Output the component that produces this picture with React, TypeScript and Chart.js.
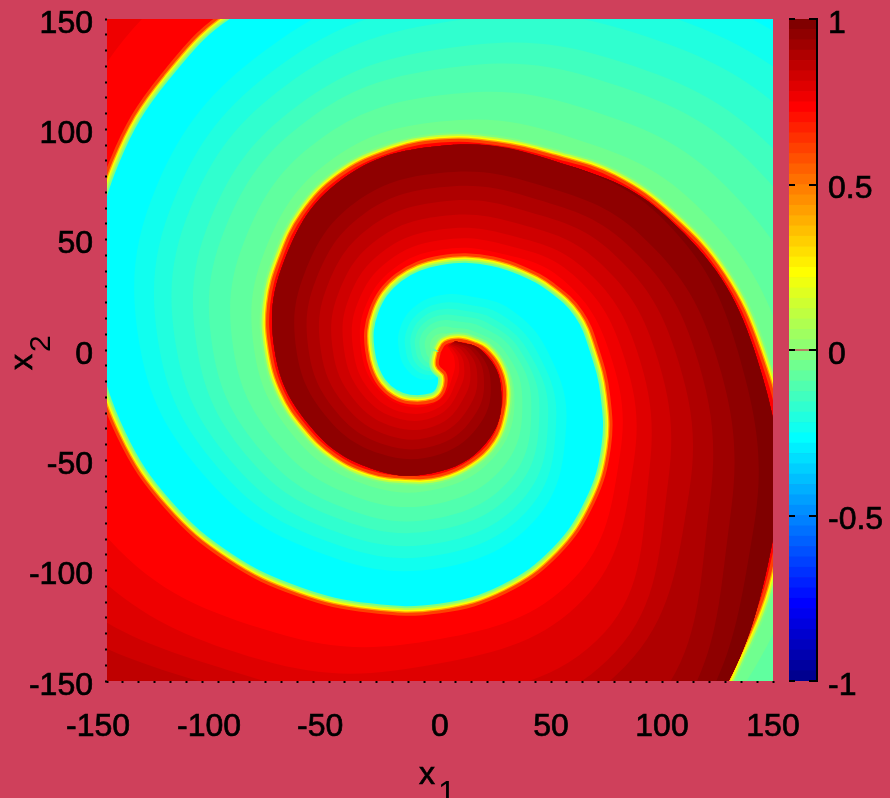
import React, { useEffect, useRef } from "react";
import { Chart, registerables } from "chart.js";

Chart.register(...registerables);

const PAGE = "#cf405b";
const FONT = "'Liberation Sans', Arial, sans-serif";

// jet colour map, bottom to top of the colour bar
const colormap = [
  "#00008f","#00009f","#0000af","#0000bf","#0000cf","#0000df","#0000ef","#0000ff",
  "#0010ff","#0020ff","#0030ff","#0040ff","#0050ff","#0060ff","#0070ff","#0080ff",
  "#008fff","#009fff","#00afff","#00bfff","#00cfff","#00dfff","#00efff","#00ffff",
  "#10ffef","#20ffdf","#30ffcf","#40ffbf","#50ffaf","#60ff9f","#70ff8f","#80ff80",
  "#8fff70","#9fff60","#afff50","#bfff40","#cfff30","#dfff20","#efff10","#ffff00",
  "#ffef00","#ffdf00","#ffcf00","#ffbf00","#ffaf00","#ff9f00","#ff8f00","#ff8000",
  "#ff7000","#ff6000","#ff5000","#ff4000","#ff3000","#ff2000","#ff1000","#ff0000",
  "#ef0000","#df0000","#cf0000","#bf0000","#af0000","#9f0000","#8f0000","#800000",
];
const barTicks = [-1, -0.5, 0, 0.5, 1];

// Edges of the red arm: a few points at the tip, radii per clockwise angle, far points off the plot
const frontTip: [number, number][] = [[-0.8,-1.9],[3,4],[10.5,4.8],[17,2.6]];
const frontAngles = [0,15,30,45,60,75,90,105,120,135,150,165,180,195,210,225,240,255,270,285,300,315,330,345,360,375,390,405,420];
const frontEdgeR = [21.5,28,34.5,41,48.3,53.5,57.8,60.8,64.8,68.2,71,74.5,77.5,81,84,88.5,92,93.8,95.8,98,102.5,112,121.5,133,144.7,160,176,193,213];
const frontFar: [number, number][] = [[0,-255],[-137.5,-238],[-251,-145],[-305,0],[-279,161],[-170,294],[0,365],[195,338]];

const backTip: [number, number][] = [[-0.9,-5.9],[2.3,-10.4],[1.5,-17.7],[-3,-22]];
const backAngles = [120,135,150,165,180,195,210,225,240,255,270,285,300,315,330,345,360,375,390,405,420,435,450,465,480,495,510,525,540,555,570,585,600,630,660];
const backEdgeR = [26.5,29,30.5,31.2,32,33.5,35,36.8,38.2,39.5,41,43.6,47,51.7,58,65,70,77.5,87,96.5,105.5,112.5,117.5,121.5,127,134,141.5,149,156,163,170,175.5,180,195,225];

// Contours of the field as radii, at clockwise angles from the x1 axis.
const cyanAngles = [-300,-270,-240,-210,-180,-150,-120,-90,-60,-30,0,30,60,90,120,150,180,210,240,270,300,330,360,390,420];
const frontRadius = [2,2,2,2,2,3,4,5,5.5,10,21.5,34.5,48.5,58,65,71,77.5,84,92,95.5,102.5,122,144.5,176,215];
const level0 = [5.9,11.6,15.5,17.4,18.5,20.6,22.7,24.8,28,36.8,48.2,65.7,87.6,98.8,106.5,119.6,134.9,147.6,157,169,193,220,245,283,321];
const level1 = [5.2,9.9,13,14.6,15.5,17.4,19.3,21.2,24,32,43.3,60.5,81.9,92.8,100.4,112.5,126.3,138,147.4,158,179.7,205.8,230,267,304.5];
const level2 = [4.6,8.5,11,12.4,13,14.8,16.6,18.3,20.7,28,39.4,56.3,76.7,87.4,94.9,106,118.6,129.6,138.6,148.2,167.4,192.5,216.3,252,289.5];
const level3 = [4.1,7.3,9.4,10.4,11,12.6,14.2,15.8,17.8,24.6,36,51.7,71,81.4,88.8,99,109.3,119.3,128,136.3,152.7,176.5,200,235,271.5];
const level4 = [3.6,6,7.6,8.4,8.9,10.4,11.8,13.3,15,21.2,32.7,47.5,65.8,76,83.3,92.5,102.3,111.5,120,127.3,141.7,164.6,188,222,258];
const level5 = [3,4.6,5.7,6.2,6.5,7.8,9.1,10.4,11.7,17.3,28.8,42.8,59.4,69.4,76.6,84.6,93,101.2,109.6,115.4,127,148.6,171.6,205,240];
const level6 = [2.5,3.3,3.7,4,4.1,5.2,6.4,7.5,8.4,13.4,24.9,38.7,53,62.8,69.9,76.7,83.7,90.9,99,103.5,112.3,132.6,155.3,187.5,222];
const cyanLevels = [level0, level1, level2, level3, level4, level5, level6];
const cyanColors = ["#10ffef","#20ffdf","#30ffcf","#40ffbf","#50ffaf","#60ff9f","#70ff8f"];

const redAngles = [-30,0,30,60,90,120,150,180,210,240,270,300,330,360,390,420,450,480,510,540,570,600,630,660];
const darkEdge = [8,18.5,31.5,45.5,55,62,68,74.5,81,89,92.5,99.5,119,141.5,173,212,252,272,287,302,319,337,362,387];
const red0 = [3.6,4.5,7.4,12.2,22.6,29.6,33.3,35.5,38.9,42.3,45.4,51,63.8,76,93.7,120,131,148,172,190,195,205,222,250];
const red1 = [4.1,6,9.7,15.3,25.7,32.7,36.6,39.1,42.8,46.6,49.7,55.5,68.8,81.9,100.8,130,142,162,188,215,225,235,245,270];
const red2 = [4.8,7.6,12.4,18.9,29.1,36.1,40.3,43.2,47.3,51.5,54.6,60.5,74.5,88.6,108.9,148,158,171,205,240,245,250,260,285];
const red3 = [5.5,9.7,15.6,23.2,33.4,40.4,44.8,48.3,52.6,57.4,60.6,66.7,81.5,96.8,118.7,158,170,180,218,255,262,270,280,300];
const red4 = [6.4,11.9,19.2,28,38,45,49.7,53.7,58.5,63.9,67.2,73.4,89.1,105.8,129.5,166,180,194,232,270,275,285,295,315];
const red5 = [7.2,14.1,22.7,32.7,42.6,49.6,54.6,59.2,64.4,70.4,73.7,80.1,96.7,114.7,140.2,188,198,215,245,285,290,300,310,330];
const red6 = [8,16.3,26.2,37.4,47.2,54.2,59.5,64.7,70.3,76.9,80.2,86.8,104.3,123.6,151,200,215,235,265,300,305,315,325,345];
const red7 = [8,18.5,31.5,45.5,55,62,68,74.5,81,89,92.5,99.5,117,134,163,208,232,252,285,315,320,330,340,365];
const redLevels = [red0, red1, red2, red3, red4, red5, red6, red7];
const redColors = ["#ef0000","#df0000","#cf0000","#bf0000","#af0000","#9f0000","#8f0000","#800000"];

const plotBox: [number, number][] = [[-150,-150],[150,-150],[150,150],[-150,150]];

type P = { x: number; y: number };
const toPoints = (list: [number, number][]): P[] => list.map(([x, y]) => ({ x, y }));
const fromPolar = (angles: number[], radii: number[]): P[] =>
  radii.map((r, i) => {
    const a = (-angles[i] * Math.PI) / 180;
    return { x: r * Math.cos(a), y: r * Math.sin(a) };
  });
// the ramp around the arm's edge is centred on the read line, so the solid arm sits just inside it
const moveRadially = (pts: P[], dr: number): P[] =>
  pts.map((p) => {
    const r = Math.hypot(p.x, p.y);
    return { x: (p.x * (r + dr)) / r, y: (p.y * (r + dr)) / r };
  });

function buildDatasets() {
  const front = [...toPoints(frontTip), ...fromPolar(frontAngles, frontEdgeR), ...toPoints(frontFar)];
  const back = [...toPoints(backTip), ...fromPolar(backAngles, backEdgeR)];
  const armEdge = [...moveRadially(front, -1.1), ...moveRadially(back, 1.1).reverse()];
  const closed = [...armEdge, armEdge[0]];
  const base = { pointRadius: 0, borderWidth: 0, tension: 0.4, showLine: true };
  const list: any[] = [];
  list.push({ ...base, tension: 0, data: toPoints(plotBox), fill: "shape", backgroundColor: "#00ffff" });
  cyanLevels.forEach((row, i) => {
    list.push({
      ...base,
      data: [...fromPolar(cyanAngles, frontRadius), ...fromPolar(cyanAngles, row).reverse()],
      fill: "shape",
      backgroundColor: cyanColors[i],
    });
  });
  [["#80ff80", 16], ["#bfff40", 12], ["#ffff00", 8.5], ["#ffa000", 5.5]].forEach(([c, w]) => {
    list.push({ ...base, data: closed, fill: false, borderColor: c, borderWidth: w });
  });
  list.push({ ...base, data: closed, fill: "shape", backgroundColor: "#ff0000", borderColor: "#ff4000", borderWidth: 3 });
  redLevels.forEach((row, i) => {
    list.push({
      ...base,
      data: [...fromPolar(redAngles, darkEdge), ...fromPolar(redAngles, row).reverse()],
      fill: "shape",
      backgroundColor: redColors[i],
    });
  });
  list.forEach((d, i) => (d.order = list.length - i));
  return list;
}

const axisLabels = {
  id: "axisLabels",
  afterDraw(chart: any) {
    const ctx = chart.ctx;
    ctx.save();
    ctx.fillStyle = "#000";
    ctx.strokeStyle = "#000";
    ctx.lineWidth = 0.7;
    ctx.textBaseline = "alphabetic";
    ctx.textAlign = "left";
    ctx.font = `32px ${FONT}`;
    ctx.fillText("x", 419, 784);
    ctx.strokeText("x", 419, 784);
    ctx.fillText("1", 438, 803);
    ctx.translate(32, 370);
    ctx.rotate(-Math.PI / 2);
    ctx.fillText("x", 0, 0);
    ctx.strokeText("x", 0, 0);
    ctx.restore();
    ctx.save();
    ctx.fillStyle = "#000";
    ctx.font = `30px ${FONT}`;
    ctx.translate(50, 352);
    ctx.rotate(-Math.PI / 2);
    ctx.fillText("2", 0, 0);
    ctx.restore();
  },
};

const minorTicks = (scale: any) => {
  const out = [];
  for (let i = 0; i <= 42; i++) out.push({ value: -150 + (i * 50) / 7 });
  scale.ticks = out;
};
const isMajor = (v: number) => Math.abs(v / 50 - Math.round(v / 50)) < 1e-6;

export default function App() {
  const mainRef = useRef<HTMLCanvasElement>(null);
  const barRef = useRef<HTMLCanvasElement>(null);

  useEffect(() => {
    document.body.style.margin = "0";
    document.body.style.background = PAGE;

    const main = new Chart(mainRef.current!, {
      type: "line",
      data: { datasets: buildDatasets() },
      plugins: [axisLabels],
      options: {
        animation: false,
        responsive: false,
        devicePixelRatio: 1,
        layout: { autoPadding: false, padding: { left: 0, top: 19, right: 117, bottom: 0 } },
        elements: { line: { capBezierPoints: false } },
        plugins: { legend: { display: false }, tooltip: { enabled: false } },
        scales: {
          x: {
            type: "linear",
            min: -150,
            max: 150,
            afterBuildTicks: minorTicks,
            afterFit: (s: any) => { s.height = 117; s.paddingLeft = 0; s.paddingRight = 0; },
            border: { display: false },
            grid: { drawOnChartArea: false, drawTicks: true, tickLength: 2, tickColor: "#000", tickWidth: 2 },
            ticks: {
              autoSkip: false,
              maxRotation: 0,
              padding: 25,
              color: "#000",
              textStrokeColor: "#000",
              textStrokeWidth: 0.7,
              font: { family: FONT, size: 32 },
              callback: (v: any) => (isMajor(v) ? (v < 0 ? `${Math.round(v)}  ` : `${Math.round(v)}`) : ""),
            },
          },
          y: {
            type: "linear",
            min: -150,
            max: 150,
            afterBuildTicks: minorTicks,
            afterFit: (s: any) => { s.width = 107; s.paddingTop = 0; s.paddingBottom = 0; },
            border: { display: false },
            grid: { drawOnChartArea: false, drawTicks: true, tickLength: 2, tickColor: "#000", tickWidth: 2 },
            ticks: {
              autoSkip: false,
              padding: 12,
              labelOffset: 5,
              color: "#000",
              textStrokeColor: "#000",
              textStrokeWidth: 0.7,
              font: { family: FONT, size: 32 },
              callback: (v: any) => (isMajor(v) ? `${Math.round(v)}` : ""),
            },
          },
        },
      },
    } as any);

    const bar = new Chart(barRef.current!, {
      type: "bar",
      data: {
        labels: ["c"],
        datasets: colormap.map((c, i) => ({
          data: [[-1 + i / 32, -1 + (i + 1) / 32]],
          backgroundColor: c,
          borderWidth: 0,
          grouped: false,
          barPercentage: 1,
          categoryPercentage: 1,
        })),
      },
      options: {
        animation: false,
        responsive: false,
        devicePixelRatio: 1,
        layout: { autoPadding: false, padding: { left: 789, top: 19, right: 0, bottom: 117 } },
        plugins: { legend: { display: false }, tooltip: { enabled: false } },
        scales: {
          x: { display: false },
          y: {
            position: "right",
            min: -1,
            max: 1,
            afterBuildTicks: (s: any) => { s.ticks = barTicks.map((value) => ({ value })); },
            afterFit: (s: any) => { s.width = 73; s.paddingTop = 0; s.paddingBottom = 0; },
            border: { display: true, color: "#000", width: 2, dash: [6, 14, 8, 100], z: 2 },
            grid: { drawOnChartArea: true, drawTicks: false, color: "#000", lineWidth: 2, z: 1 },
            ticks: {
              padding: 11,
              labelOffset: 5,
              color: "#000",
              textStrokeColor: "#000",
              textStrokeWidth: 0.7,
              font: { family: FONT, size: 32 },
              callback: (v: any) => `${v}`,
            },
          },
        },
      },
    } as any);

    return () => {
      main.destroy();
      bar.destroy();
    };
  }, []);

  return (
    <div style={{ position: "relative", width: 890, height: 798, overflow: "hidden" }}>
      <canvas ref={mainRef} width={890} height={798} style={{ position: "absolute", left: 0, top: 0 }} />
      <canvas ref={barRef} width={890} height={798} style={{ position: "absolute", left: 0, top: 0 }} />
    </div>
  );
}
